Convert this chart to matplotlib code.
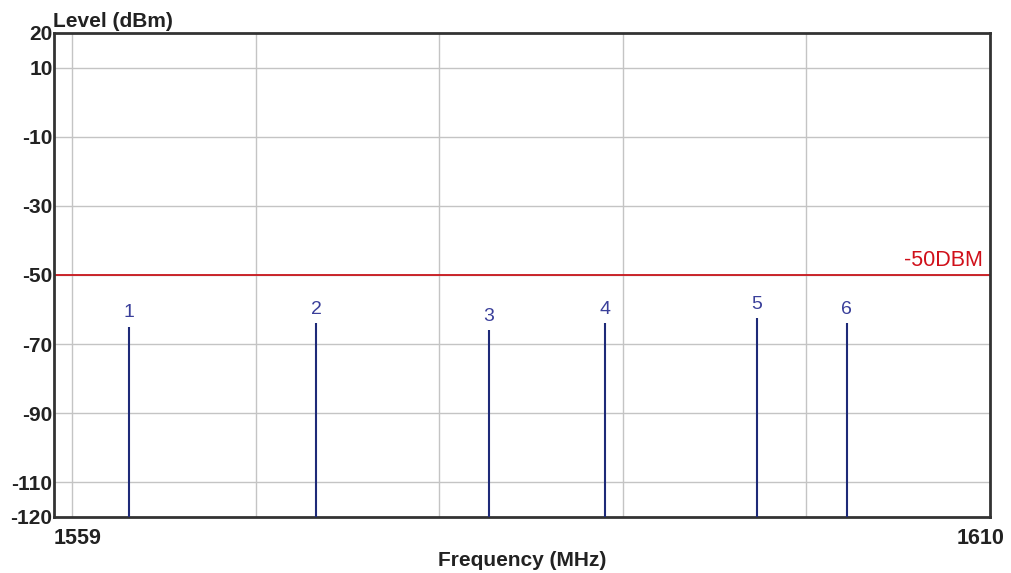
import matplotlib
matplotlib.use("Agg")
import matplotlib.pyplot as plt

# spur frequencies (MHz) and peak levels (dBm)
freqs = [1563.1, 1573.3, 1582.7, 1589.0, 1597.3, 1602.2]
levels = [-65.0, -64.0, -66.0, -64.0, -62.5, -64.0]
labels = ["1", "2", "3", "4", "5", "6"]

limit = -50
y_ticks = [20, 10, -10, -30, -50, -70, -90, -110, -120]
x_grid = [1560, 1570, 1580, 1590, 1600]
y_grid = [10, -10, -30, -50, -70, -90, -110]

plt.rcParams["font.family"] = ["Liberation Sans", "DejaVu Sans"]

fig = plt.figure(figsize=(10.11, 5.73), dpi=100)
ax = fig.add_axes([54 / 1011, 56 / 573, 936 / 1011, 484 / 573])
ax.set_xlim(1559, 1610)
ax.set_ylim(-120, 20)

# grid
for g in x_grid:
    ax.axvline(g, color="#c4c4c4", lw=1.0, zorder=1)
for g in y_grid:
    ax.axhline(g, color="#c4c4c4", lw=1.0, zorder=1)

# limit line
ax.axhline(limit, color="#c8151b", lw=1.3, zorder=2)
ax.text(1609.6, limit + 1.2, "-50DBM", color="#d0101a", fontsize=15.5,
        ha="right", va="bottom", zorder=3)

# spurs
ax.vlines(freqs, -120, levels, color="#1e2a78", lw=1.5, zorder=3)
for f, lv, lab in zip(freqs, levels, labels):
    ax.annotate(lab, (f, lv), xytext=(0, 4), textcoords="offset points",
                ha="center", va="bottom", fontsize=14, color="#3a3f9a")

ax.set_xticks([])
ax.set_yticks(y_ticks)
ax.set_yticklabels([str(t) for t in y_ticks], fontsize=15, fontweight="bold",
                   color="#222")
ax.tick_params(axis="y", length=0, pad=1)

for s in ax.spines.values():
    s.set_color("#333333")
    s.set_linewidth(2.0)

# end labels of the frequency axis
ax.text(0.0, -0.022, "1559", transform=ax.transAxes, ha="left", va="top",
        fontsize=15.5, fontweight="bold", color="#222")
ax.text(1.016, -0.022, "1610", transform=ax.transAxes, ha="right", va="top",
        fontsize=15.5, fontweight="bold", color="#222")

fig.text(53 / 1011, 1 - 27 / 573, "Level (dBm)", ha="left", va="baseline",
         fontsize=15, fontweight="bold", color="#222")
fig.text(522 / 1011, 1 - 566 / 573, "Frequency (MHz)", ha="center",
         va="baseline", fontsize=15, fontweight="bold", color="#222")

fig.savefig("out.png", dpi=100)
